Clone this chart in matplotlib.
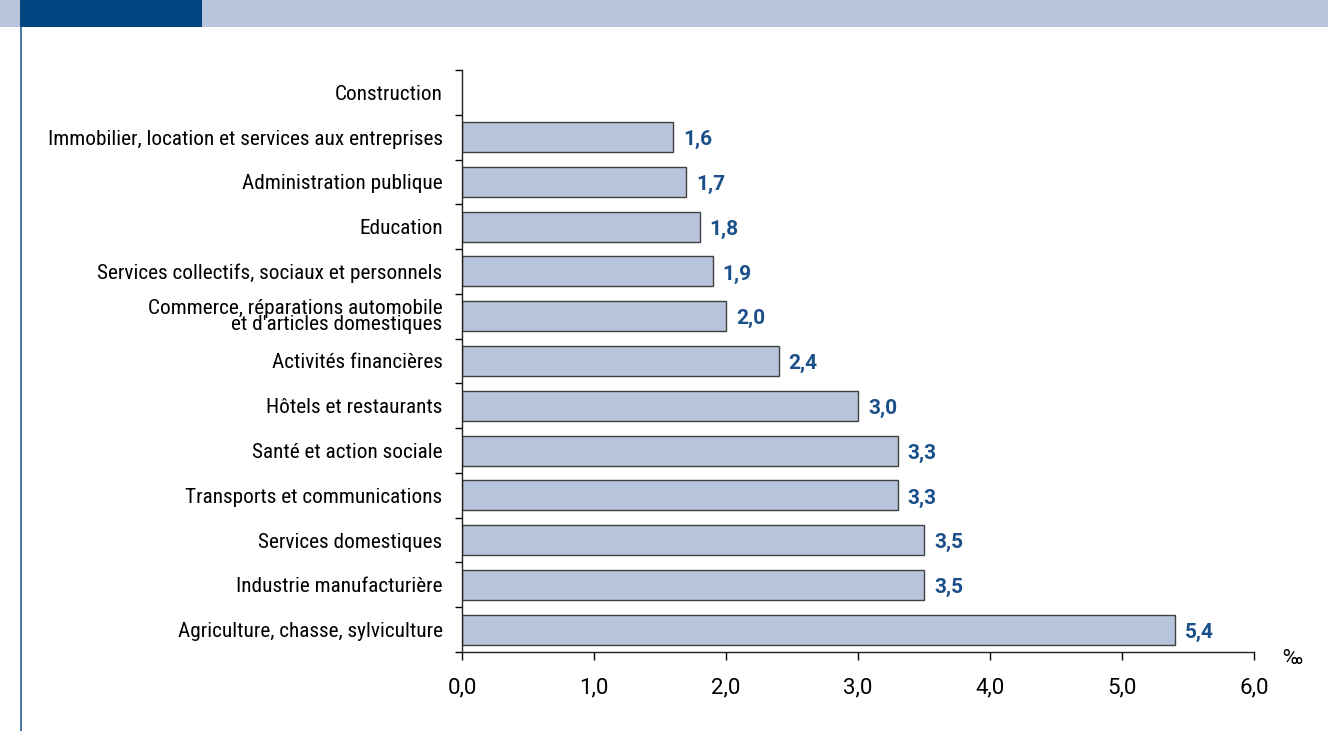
import matplotlib.pyplot as plt
import matplotlib.patches as mpatches
import numpy as np

plt.rcParams['font.family'] = ['Roboto Condensed', 'DejaVu Sans']

# categories, top to bottom
categories = [
    'Construction',
    'Immobilier, location et services aux entreprises',
    'Administration publique',
    'Education',
    'Services collectifs, sociaux et personnels',
    "Commerce, réparations automobile\net d'articles domestiques",
    'Activités financières',
    'Hôtels et restaurants',
    'Santé et action sociale',
    'Transports et communications',
    'Services domestiques',
    'Industrie manufacturière',
    'Agriculture, chasse, sylviculture',
]
values = [None, 1.6, 1.7, 1.8, 1.9, 2.0, 2.4, 3.0, 3.3, 3.3, 3.5, 3.5, 5.4]
value_labels = ['', '1,6', '1,7', '1,8', '1,9', '2,0', '2,4', '3,0', '3,3', '3,3', '3,5', '3,5', '5,4']
xticks = [0, 1, 2, 3, 4, 5, 6]
xtick_labels = ['0,0', '1,0', '2,0', '3,0', '4,0', '5,0', '6,0']

bar_color = '#b8c4dc'
dark_blue = '#00457f'
label_blue = '#1a4f8a'

fig = plt.figure(figsize=(13.28, 7.31), dpi=100)

# header band + left rule
fig.patches.append(mpatches.Rectangle((0, 1 - 27 / 731), 1, 27 / 731, transform=fig.transFigure,
                                      facecolor=bar_color, edgecolor='none'))
fig.patches.append(mpatches.Rectangle((20 / 1328, 1 - 27 / 731), 182 / 1328, 27 / 731,
                                      transform=fig.transFigure, facecolor=dark_blue, edgecolor='none'))
fig.lines.append(plt.Line2D([20.5 / 1328, 20.5 / 1328], [0, 1 - 27 / 731], transform=fig.transFigure,
                            color='#2a5d94', linewidth=1.2))

ax = fig.add_axes([462 / 1328, 1 - 652 / 731, 792 / 1328, 582 / 731])

n = len(categories)
y = np.arange(n)
vals = [v if v is not None else 0 for v in values]
bars = ax.barh(y, vals, height=0.67, color=bar_color, edgecolor='#404040', linewidth=1.0)
for i, v in enumerate(values):
    if v is None:
        bars[i].set_visible(False)
        continue
    ax.text(v + 0.075, i + 0.06, value_labels[i], va='center', ha='left', family='Roboto',
            fontsize=15, fontweight='bold', color=label_blue)

ax.set_ylim(n - 0.5, -0.5)
ax.set_xlim(0, 6)
ax.set_yticks(y)
ax.set_yticklabels(categories, fontsize=15.3, linespacing=0.78)
ax.set_yticks(np.arange(n + 1) - 0.5, minor=True)
ax.tick_params(axis='y', which='major', length=0, pad=14)
ax.tick_params(axis='y', which='minor', length=5, width=1, direction='out')
ax.set_xticks(xticks)
ax.set_xticklabels(xtick_labels, fontsize=16, family='Roboto')
ax.tick_params(axis='x', length=6, width=1, direction='out', pad=12)

for s in ['top', 'right']:
    ax.spines[s].set_visible(False)
for s in ['left', 'bottom']:
    ax.spines[s].set_color('#222222')
    ax.spines[s].set_linewidth(1)

fig.text(1292 / 1328, 1 - 659 / 731, '‰', fontsize=15, family='Roboto', ha='center', va='center')

fig.savefig('out.png', dpi=100)
